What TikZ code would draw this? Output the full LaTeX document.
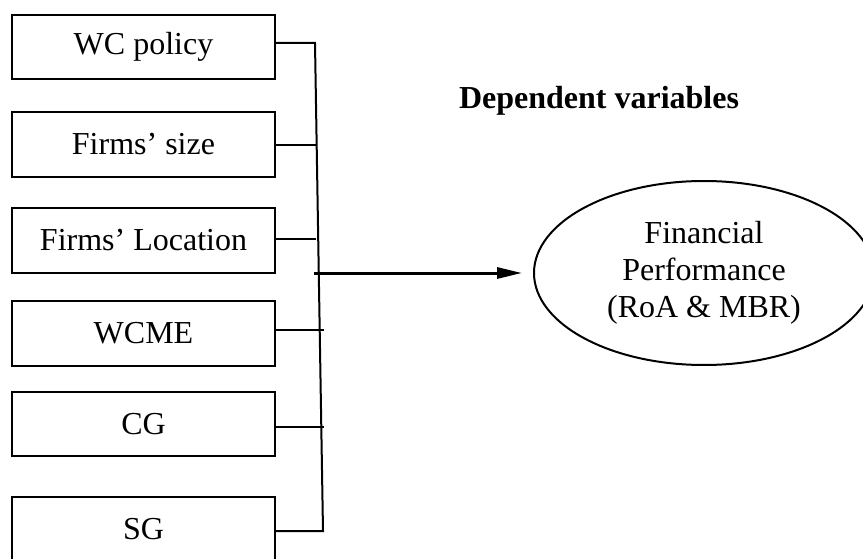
\documentclass[tikz,border=0pt]{standalone}
\usepackage{fontspec}
\setmainfont{Liberation Serif}
\usetikzlibrary{shapes.geometric,arrows.meta}
\begin{document}
\begin{tikzpicture}[x=1pt,y=-1pt,
  varbox/.style={draw,line width=2pt,minimum width=263pt,inner sep=0pt,
    font=\fontsize{32}{37}\selectfont},
  wire/.style={line width=2pt},
  outcome/.style={draw,ellipse,line width=2pt,minimum width=340pt,minimum height=184pt,
    inner sep=0pt,align=center,font=\fontsize{32}{37}\selectfont}]
\useasboundingbox (0,0) rectangle (863,559);
% independent variables
\node[varbox,minimum height=64pt] (b1) at (143.5,47) {WC policy};
\node[varbox,minimum height=65pt] (b2) at (143.5,144.5) {Firms’ size};
\node[varbox,minimum height=65pt] (b3) at (143.5,240.5) {Firms’ Location};
\node[varbox,minimum height=65pt] (b4) at (143.5,333.5) {WCME};
\node[varbox,minimum height=64pt] (b5) at (143.5,424) {CG};
\node[varbox,minimum height=64pt] (b6) at (143.5,529) {SG};
% collecting bar
\coordinate (top) at (315,43);
\coordinate (bot) at (323,531);
\coordinate (j2) at (316,145);
\coordinate (j3) at (316,239);
\coordinate (j4) at (324,330);
\coordinate (j5) at (324,427);
\coordinate (src) at (314,273);
\draw[wire] (b1.east |- top) -- (top) -- (bot) -- (b6.east |- bot);
\draw[wire] (b2.east |- j2) -- (j2);
\draw[wire] (b3.east |- j3) -- (j3);
\draw[wire] (b4.east |- j4) -- (j4);
\draw[wire] (b5.east |- j5) -- (j5);
% dependent variable
\node[font=\fontsize{32}{37}\selectfont\bfseries] (dv) at (599,101) {Dependent variables};
\node[outcome] (fp) at (704,273) {Financial\\Performance\\(RoA \& MBR)};
\draw[line width=3pt,-{Triangle[length=25pt,width=11pt]},shorten >=11pt] (src) -- (fp.west);
\end{tikzpicture}
\end{document}
